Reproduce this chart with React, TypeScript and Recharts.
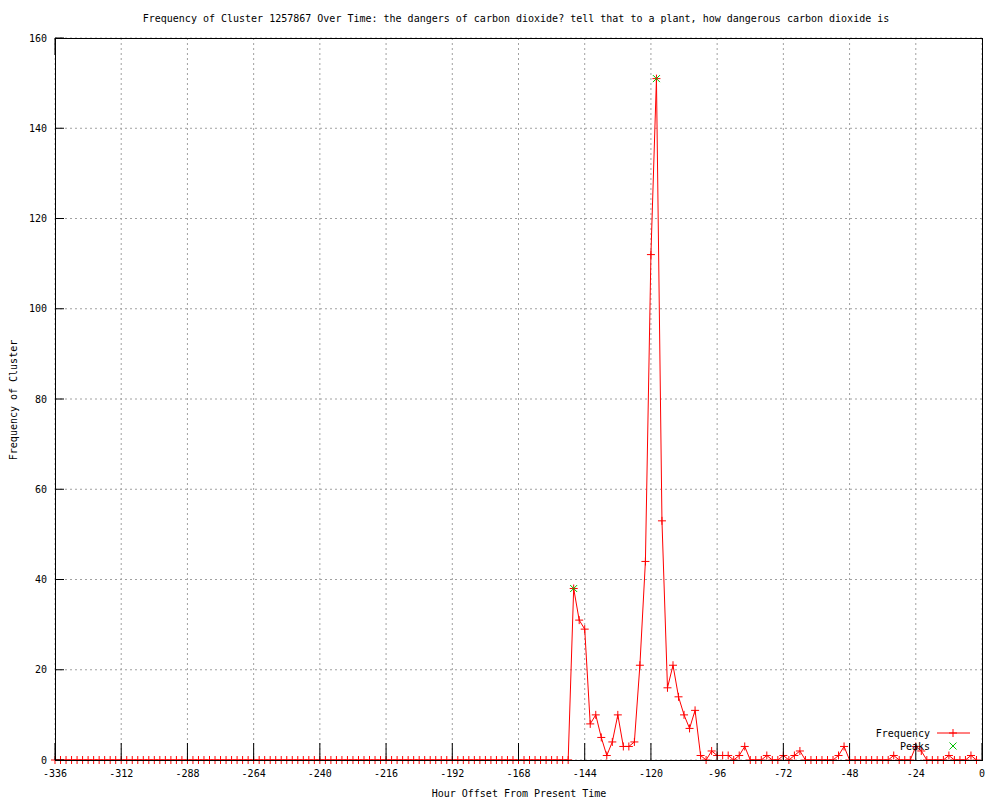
import React from 'react';
import { LineChart, Line, XAxis, YAxis, CartesianGrid } from 'recharts';

const FONT = '"DejaVu Sans Mono", monospace';
const RED = '#ff0000';
const GREEN = '#00c000';

const START_HOUR = -336;
const HOUR_STEP = 2;

// frequency per 2-hour bucket, from -336 to -2
const frequency = [
  0, 0, 0, 0, 0, 0, 0, 0, 0, 0,
  0, 0, 0, 0, 0, 0, 0, 0, 0, 0,
  0, 0, 0, 0, 0, 0, 0, 0, 0, 0,
  0, 0, 0, 0, 0, 0, 0, 0, 0, 0,
  0, 0, 0, 0, 0, 0, 0, 0, 0, 0,
  0, 0, 0, 0, 0, 0, 0, 0, 0, 0,
  0, 0, 0, 0, 0, 0, 0, 0, 0, 0,
  0, 0, 0, 0, 0, 0, 0, 0, 0, 0,
  0, 0, 0, 0, 0, 0, 0, 0, 0, 0,
  0, 0, 0,
  0, 38, 31, 29, 8, 10, 5, 1, 4, 10,
  3, 3, 4, 21, 44, 112, 151, 53, 16, 21,
  14, 10, 7, 11, 1, 0, 2, 1, 1, 1,
  0, 1, 3, 0, 0, 0, 1, 0, 0, 1,
  0, 1, 2, 0, 0, 0, 0, 0, 0, 1,
  3, 0, 0, 0, 0, 0, 0, 0, 0, 1,
  0, 0, 0, 3, 2, 0, 0, 0, 0, 1,
  0, 0, 0, 1, 0,
];

const peakHours = [-148, -118];
const peakValues = [38, 151];

const xTicks = [-336, -312, -288, -264, -240, -216, -192, -168, -144, -120, -96, -72, -48, -24, 0];
const yTicks = [0, 20, 40, 60, 80, 100, 120, 140, 160];

const data = frequency.map((f, i) => {
  const hour = START_HOUR + HOUR_STEP * i;
  const p = peakHours.indexOf(hour);
  return { hour, freq: f, peak: p >= 0 ? peakValues[p] : null };
});

const PlusDot = (props: any) => {
  const { cx, cy } = props;
  if (cx == null || cy == null) return <g key={props.index} />;
  return <path key={props.index} d={`M${cx - 4},${cy}h8M${cx},${cy - 4}v8`} stroke={RED} strokeWidth={1} fill="none" />;
};

const CrossDot = (props: any) => {
  const { cx, cy, value } = props;
  if (cx == null || cy == null || value == null) return <g key={props.index} />;
  return <path key={props.index} d={`M${cx - 3.5},${cy - 3.5}l7,7M${cx - 3.5},${cy + 3.5}l7,-7`} stroke={GREEN} strokeWidth={1} fill="none" />;
};

const BottomTick = (props: any) => {
  const { x, payload } = props;
  const y = 760;
  return (
    <g>
      <line x1={x} y1={y} x2={x} y2={y - 17} stroke="#000" />
      <text x={x} y={y + 16.5} textAnchor="middle" fontSize={10} fontFamily={FONT} fill="#000">{payload.value}</text>
    </g>
  );
};

const TopTick = (props: any) => {
  const { x } = props;
  const y = 38;
  return <line x1={x} y1={y} x2={x} y2={y + 17} stroke="#000" />;
};

const LeftTick = (props: any) => {
  const { y, payload } = props;
  const x = 55;
  return (
    <g>
      <line x1={x} y1={y} x2={x + 9} y2={y} stroke="#000" />
      <text x={x - 8} y={y + 3.5} textAnchor="end" fontSize={10} fontFamily={FONT} fill="#000">{payload.value}</text>
    </g>
  );
};

const RightTick = (props: any) => {
  const { y } = props;
  const x = 982;
  return <line x1={x} y1={y} x2={x - 9} y2={y} stroke="#000" />;
};

export default function App() {
  return (
    <div style={{ position: 'absolute', left: 0, top: 0, width: 1000, height: 800, background: '#fff' }}>
      <LineChart width={1000} height={800} data={data} margin={{ top: 37, right: 17, bottom: 39, left: 54 }}>
        <CartesianGrid xAxisId="b" yAxisId="l" stroke="#a0a0a0" strokeDasharray="2 3" />
        <XAxis xAxisId="b" dataKey="hour" type="number" domain={[-336, 0]} ticks={xTicks} height={1}
          tickSize={0} tickMargin={0} tickLine={false} axisLine={false} tick={BottomTick} interval={0} />
        <XAxis xAxisId="t" orientation="top" type="number" domain={[-336, 0]} ticks={xTicks} height={1}
          tickSize={0} tickMargin={0} tickLine={false} axisLine={false} tick={TopTick} interval={0} />
        <YAxis yAxisId="l" type="number" domain={[0, 160]} ticks={yTicks} width={1}
          tickSize={0} tickMargin={0} tickLine={false} axisLine={false} tick={LeftTick} interval={0} />
        <YAxis yAxisId="r" orientation="right" type="number" domain={[0, 160]} ticks={yTicks} width={1}
          tickSize={0} tickMargin={0} tickLine={false} axisLine={false} tick={RightTick} interval={0} />
        <Line xAxisId="b" yAxisId="l" type="linear" dataKey="freq" stroke={RED} strokeWidth={1}
          dot={(p: any) => <PlusDot key={p.index} {...p} />} activeDot={false} isAnimationActive={false} />
        <Line xAxisId="b" yAxisId="l" type="linear" dataKey="peak" stroke="none"
          dot={(p: any) => <CrossDot key={p.index} {...p} />} activeDot={false} isAnimationActive={false} />
      </LineChart>
      <svg width={1000} height={800} style={{ position: 'absolute', left: 0, top: 0, pointerEvents: 'none' }}>
        <rect x={55.5} y={38.5} width={927} height={722} fill="none" stroke="#000" />
        <text x={516} y={21.5} textAnchor="middle" fontSize={10} fontFamily={FONT} fill="#000">
          Frequency of Cluster 1257867 Over Time: the dangers of carbon dioxide? tell that to a plant, how dangerous carbon dioxide is
        </text>
        <text x={519} y={796.5} textAnchor="middle" fontSize={10} fontFamily={FONT} fill="#000">Hour Offset From Present Time</text>
        <text transform="translate(16.5,400) rotate(-90)" textAnchor="middle" fontSize={10} fontFamily={FONT} fill="#000">Frequency of Cluster</text>
        <text x={930} y={736.5} textAnchor="end" fontSize={10} fontFamily={FONT} fill="#000">Frequency</text>
        <line x1={937} y1={733} x2={970} y2={733} stroke={RED} />
        <path d="M949,733h8M953,729v8" stroke={RED} fill="none" />
        <text x={930} y={749.5} textAnchor="end" fontSize={10} fontFamily={FONT} fill="#000">Peaks</text>
        <path d="M949.5,742.5l7,7M949.5,749.5l7,-7" stroke={GREEN} fill="none" />
      </svg>
    </div>
  );
}
